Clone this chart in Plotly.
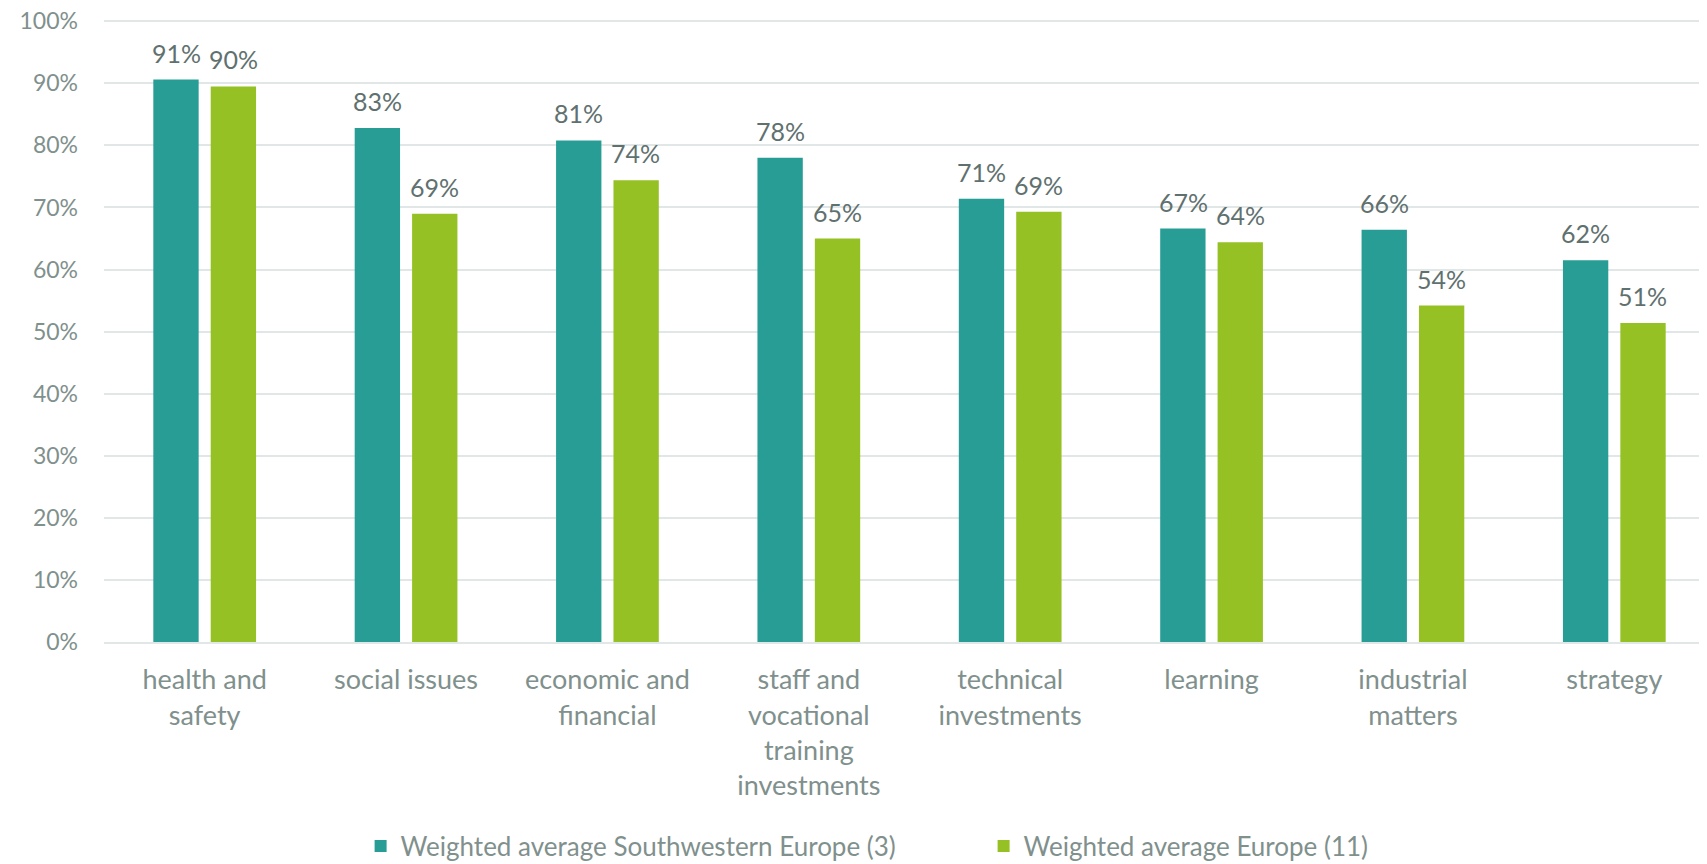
import plotly.graph_objects as go

categories = [
    "health and<br>safety",
    "social issues",
    "economic and<br>financial",
    "staff and<br>vocational<br>training<br>investments",
    "technical<br>investments",
    "learning",
    "industrial<br>matters",
    "strategy",
]
sw_europe = [0.906, 0.828, 0.808, 0.780, 0.714, 0.666, 0.664, 0.615]
europe = [0.895, 0.690, 0.744, 0.650, 0.693, 0.644, 0.542, 0.514]
y_ticks = [i / 10 for i in range(11)]

TEAL = "#279D96"
GREEN = "#96C125"
AXIS_TEXT = "#7F908D"
LABEL_TEXT = "#5F716F"
GRID = "#E1E6E6"
FONT = "Lato"

fig = go.Figure()

fig.add_trace(go.Bar(
    x=categories,
    y=sw_europe,
    name="Weighted average Southwestern Europe (3)",
    marker=dict(color=TEAL, line=dict(width=0)),
    hoverinfo="skip",
))
fig.add_trace(go.Bar(
    x=categories,
    y=europe,
    name="Weighted average Europe (11)",
    marker=dict(color=GREEN, line=dict(width=0)),
    hoverinfo="skip",
))

# data labels above each bar, shifted onto their bar within the group
for values, shift in [(sw_europe, -28.5), (europe, 28.5)]:
    for cat, v in zip(categories, values):
        fig.add_annotation(
            x=cat, y=v, xref="x", yref="y",
            text=f"{v:.0%}",
            showarrow=False,
            xshift=shift, yshift=10,
            yanchor="bottom",
            font=dict(family=FONT, size=25, color=LABEL_TEXT),
        )

fig.update_layout(
    width=1707,
    height=864,
    margin=dict(l=96, r=0, t=12, b=230, autoexpand=False),
    paper_bgcolor="white",
    plot_bgcolor="white",
    barmode="group",
    bargap=0.43,
    bargroupgap=0.21,
    font=dict(family=FONT, size=24, color=AXIS_TEXT),
    legend=dict(
        orientation="h",
        x=0.546, xanchor="center",
        y=-0.328, yanchor="middle",
        font=dict(family=FONT, size=26, color=AXIS_TEXT),
        entrywidth=578,
        itemsizing="constant",
    ),
    showlegend=True,
)

fig.update_yaxes(
    range=[0, 1.002],
    tickvals=y_ticks,
    tickformat=".0%",
    showgrid=True,
    gridcolor=GRID,
    gridwidth=2,
    zeroline=False,
    showline=False,
    automargin=False,
    ticklabeloverflow="allow",
    ticklabelstandoff=25,
    tickfont=dict(family=FONT, size=23, color=AXIS_TEXT),
)
fig.update_xaxes(
    showline=True,
    linecolor=GRID,
    linewidth=2,
    ticks="",
    automargin=False,
    ticklabelstandoff=13,
    tickfont=dict(family=FONT, size=27, color=AXIS_TEXT),
)

fig.write_html("out.html")
